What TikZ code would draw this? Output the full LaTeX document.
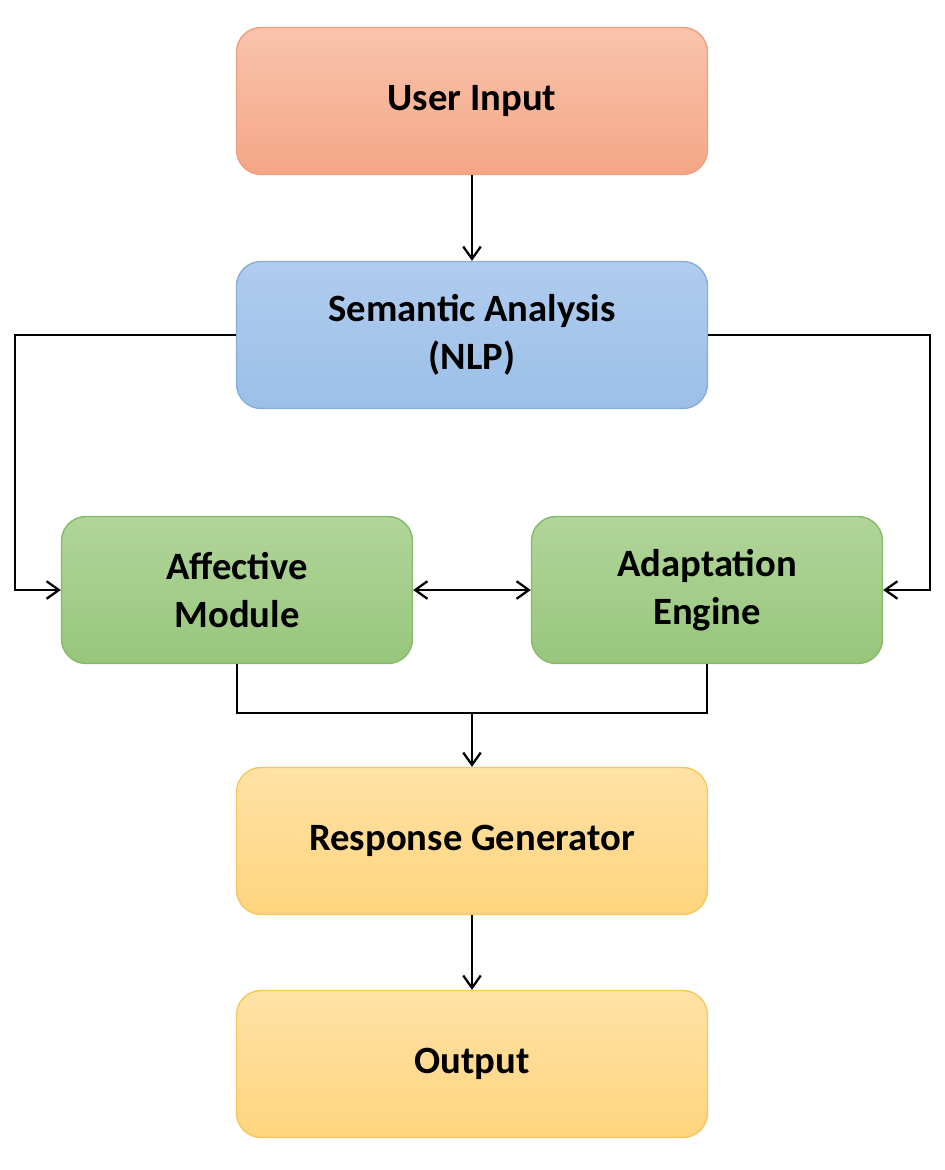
\documentclass[tikz,border=0pt]{standalone}
\usepackage{fontspec}
\setmainfont{Carlito}
\usetikzlibrary{arrows.meta}
\definecolor{oT}{HTML}{F9C4AC}\definecolor{oB}{HTML}{F4A686}\definecolor{oD}{HTML}{F0A080}
\definecolor{bT}{HTML}{B0CCEE}\definecolor{bB}{HTML}{9CBFE8}\definecolor{bD}{HTML}{86AEDD}
\definecolor{gT}{HTML}{B0D59A}\definecolor{gB}{HTML}{98C67C}\definecolor{gD}{HTML}{86B86A}
\definecolor{yT}{HTML}{FFE2A6}\definecolor{yB}{HTML}{FFD47E}\definecolor{yD}{HTML}{F5C85E}
\begin{document}
\begin{tikzpicture}[x=0.02cm,y=-0.02cm,
box/.style={draw,rounded corners=14pt,minimum width=471*0.02cm,minimum height=147*0.02cm,align=center,font=\fontsize{22}{27}\selectfont\bfseries,line width=0.8pt},
sbox/.style={box,minimum width=351*0.02cm},
tip/.tip={Straight Barb[length=7pt,width=10pt,line width=1.3pt]},
arr/.style={-tip,line width=1.3pt},
ln/.style={line width=1.3pt}]
\useasboundingbox (0,0) rectangle (945,1170);
\node[box,top color=oT,bottom color=oB,draw=oD] (ui) at (472,101) {User Input};
\node[box,top color=bT,bottom color=bB,draw=bD] (sa) at (472,335) {Semantic Analysis\\(NLP)};
\node[sbox,top color=gT,bottom color=gB,draw=gD] (af) at (237,590) {Affective\\Module};
\node[sbox,top color=gT,bottom color=gB,draw=gD] (ad) at (707,590) {Adaptation\\Engine};
\node[box,top color=yT,bottom color=yB,draw=yD] (rg) at (472,841) {Response Generator};
\node[box,top color=yT,bottom color=yB,draw=yD] (out) at (472,1064) {Output};
\coordinate (j) at (472,713);
\draw[arr] (ui) -- (sa);
\draw[arr] (sa.west) -- (15,335) |- (af.west);
\draw[arr] (sa.east) -- (930,335) |- (ad.east);
\draw[arr,tip-tip] (af) -- (ad);
\draw[ln] (af.south) |- (j) -| (ad.south);
\draw[arr] (j) -- (rg);
\draw[arr] (rg) -- (out);
\end{tikzpicture}
\end{document}
